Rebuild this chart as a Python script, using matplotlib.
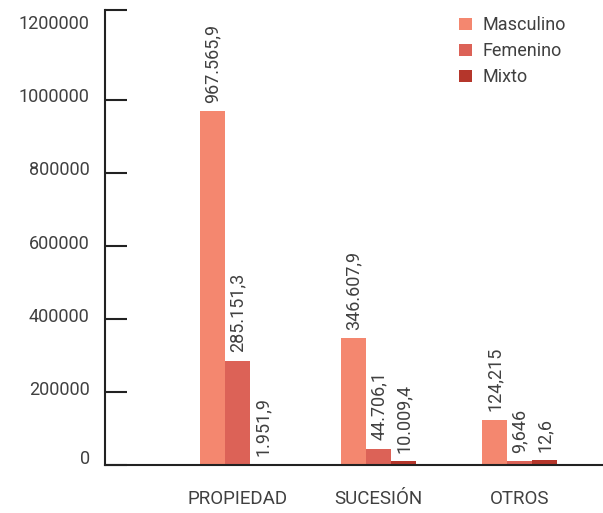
import matplotlib
matplotlib.use("Agg")
import matplotlib.pyplot as plt
from matplotlib.patches import Patch
import matplotlib.transforms as mtransforms
import numpy as np

plt.rcParams['font.family'] = ['Roboto', 'DejaVu Sans']

categories = ["PROPIEDAD", "SUCESIÓN", "OTROS"]
series = ["Masculino", "Femenino", "Mixto"]
masculino = [967565.9, 346607.9, 124215]
femenino = [285151.3, 44706.1, 9646]
mixto = [1951.9, 10009.4, 12600]
masculino_labels = ["967.565,9", "346.607,9", "124,215"]
femenino_labels = ["285.151,3", "44.706,1", "9,646"]
mixto_labels = ["1.951,9", "10.009,4", "12,6"]
yticks = [0, 200000, 400000, 600000, 800000, 1000000, 1200000]

colors = ["#F4876F", "#DC6257", "#B5362B"]
text_color = "#404040"

fig = plt.figure(figsize=(6.03, 5.13), dpi=100)
ax = fig.add_axes([105 / 603, 1 - 465 / 513, 498 / 603, 455 / 513])

x = np.arange(len(categories))
width = 0.177
data = [masculino, femenino, mixto]
labels = [masculino_labels, femenino_labels, mixto_labels]
for i, (vals, labs, col) in enumerate(zip(data, labels, colors)):
    pos = x + (i - 1) * width
    bars = ax.bar(pos, vals, width=width, color=col, label=series[i], zorder=2)
    for b, lab in zip(bars, labs):
        ax.annotate(lab, (b.get_x() + b.get_width() / 2, b.get_height()),
                    xytext=(0, 6), textcoords="offset points",
                    rotation=90, ha="center", va="bottom",
                    fontsize=13, color=text_color)

ax.set_xlim(-0.94, 2.59)
ax.set_ylim(0, 1245000)

ax.set_yticks(yticks)
ax.set_yticklabels([str(v) for v in yticks])
ax.set_yticks([1245000], minor=True)
ax.tick_params(axis="y", which="both", direction="in", length=16, width=1.5,
               color="#222222", pad=11, labelsize=13, labelcolor=text_color)
ax.tick_params(axis="y", which="minor", labelleft=False)
ax.yaxis.get_major_ticks()[-1].tick1line.set_visible(False)
# nudge the y tick labels slightly upward
shift = mtransforms.ScaledTranslation(0, 3 / 72, fig.dpi_scale_trans)
for lbl in ax.get_yticklabels():
    lbl.set_transform(lbl.get_transform() + shift)
zero_shift = mtransforms.ScaledTranslation(0, 3 / 72, fig.dpi_scale_trans)
ax.get_yticklabels()[0].set_transform(ax.get_yticklabels()[0].get_transform() + zero_shift)

ax.set_xticks(x)
ax.set_xticklabels(categories)
ax.tick_params(axis="x", length=0, pad=18, labelsize=13.5, labelcolor=text_color)

for s in ["top", "right"]:
    ax.spines[s].set_visible(False)
for s in ["left", "bottom"]:
    ax.spines[s].set_linewidth(1.5)
    ax.spines[s].set_color("#222222")

handles = [Patch(facecolor=c, label=s) for c, s in zip(colors, series)]
fig.legend(handles=handles, loc="upper left",
           bbox_to_anchor=(452 / 603, 1 - 9 / 513),
           frameon=False, fontsize=13, handlelength=0.7, handleheight=0.7,
           handletextpad=0.6, labelspacing=0.45, labelcolor=text_color,
           borderaxespad=0.0)

fig.savefig("out.png", dpi=100)
